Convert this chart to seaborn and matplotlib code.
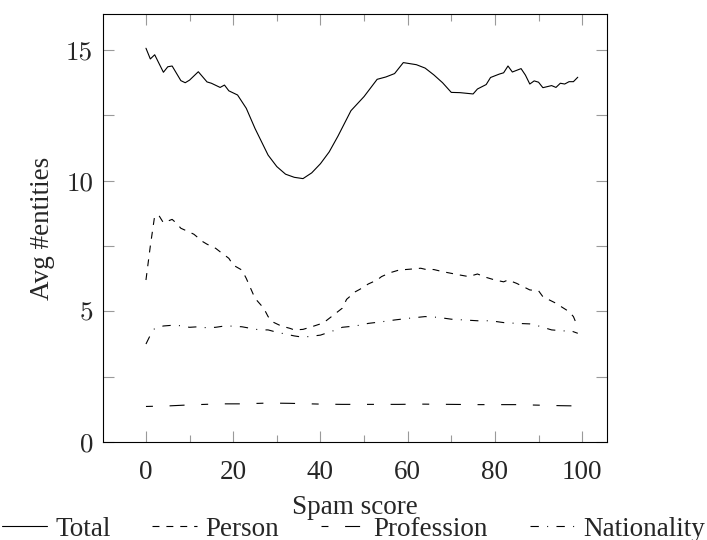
import matplotlib
matplotlib.use("Agg")
import matplotlib.pyplot as plt
import seaborn as sns
from matplotlib.ticker import MultipleLocator

# ---------------- data ----------------
total_x = [0, 1, 2, 4, 5, 6, 8, 9, 10, 12, 14, 15, 17, 18, 19, 21, 23, 25, 28, 30,
           32, 34, 36, 38, 40, 42, 44, 47, 50, 53, 55, 57, 59, 62, 64, 66, 68, 70, 72, 75,
           76, 78, 79, 81, 82, 83, 84, 86, 87, 88, 89, 90, 91, 93, 94, 95, 96, 97, 98, 99]
total_y = [15.07, 14.66, 14.82, 14.15, 14.36, 14.39, 13.83, 13.75, 13.85, 14.17,
           13.78, 13.73, 13.57, 13.66, 13.44, 13.28, 12.77, 12.0, 10.98, 10.54,
           10.25, 10.13, 10.08, 10.3, 10.65, 11.1, 11.7, 12.68, 13.22, 13.88,
           13.97, 14.1, 14.52, 14.44, 14.31, 14.05, 13.75, 13.38, 13.37, 13.32,
           13.51, 13.68, 13.95, 14.08, 14.13, 14.39, 14.16, 14.29, 14.04, 13.7,
           13.82, 13.77, 13.56, 13.64, 13.57, 13.73, 13.7, 13.79, 13.79, 13.96]

person_x = [0, 1, 2, 3, 4, 6, 7, 8, 10, 11, 13, 14, 16, 17, 19, 20, 22, 23, 24, 25,
            27, 28, 29, 31, 33, 34, 36, 38, 40, 41, 43, 45, 46, 48, 49, 51, 53, 54, 56, 58,
            61, 63, 64, 66, 68, 72, 74, 76, 78, 80, 82, 83, 85, 88, 90, 91, 94, 95, 97, 98, 99]
person_y = [6.2, 7.5, 8.66, 8.66, 8.39, 8.52, 8.37, 8.18, 8.03, 7.95,
            7.67, 7.57, 7.41, 7.28, 7.03, 6.77, 6.58, 6.26, 5.88, 5.5,
            5.12, 4.8, 4.6, 4.44, 4.35, 4.29, 4.31, 4.41, 4.52, 4.6,
            4.86, 5.12, 5.46, 5.75, 5.84, 6.05, 6.2, 6.33, 6.48, 6.58,
            6.62, 6.65, 6.61, 6.6, 6.52, 6.39, 6.33, 6.43, 6.3, 6.2,
            6.13, 6.2, 6.07, 5.82, 5.79, 5.56, 5.31, 5.2, 4.99, 4.8, 4.4]

profession_x = [0, 5, 10, 17, 22, 28, 33, 40, 45, 52, 58, 63, 70, 76, 80, 85, 90, 95, 99]
profession_y = [1.36, 1.38, 1.42, 1.46, 1.46, 1.49, 1.48, 1.45, 1.44, 1.44,
                1.44, 1.45, 1.44, 1.43, 1.43, 1.43, 1.41, 1.39, 1.38]

nationality_x = [0, 1, 2, 4, 7, 8, 10, 12, 14, 16, 18, 19, 22, 24, 26, 28, 30, 32, 34, 36,
                 40, 43, 45, 48, 51, 54, 57, 60, 64, 67, 70, 73, 76, 79, 82, 85, 88, 90, 93, 96, 97, 99]
nationality_y = [3.75, 4.09, 4.35, 4.44, 4.48, 4.44, 4.39, 4.41, 4.37, 4.39,
                 4.44, 4.44, 4.41, 4.35, 4.29, 4.29, 4.2, 4.13, 4.06, 4.01,
                 4.09, 4.26, 4.39, 4.44, 4.54, 4.6, 4.67, 4.73, 4.8, 4.77,
                 4.7, 4.67, 4.64, 4.64, 4.57, 4.54, 4.52, 4.44, 4.29, 4.25, 4.28, 4.16]

series_names = ["Total", "Person", "Profession", "Nationality"]
xtick_labels = ["0", "20", "40", "60", "80", "100"]
ytick_labels = ["0", "5", "10", "15"]

# ---------------- style ----------------
sns.set_theme(style="white")
plt.rcParams["font.family"] = ["Liberation Serif", "DejaVu Serif"]
plt.rcParams["lines.scale_dashes"] = False
FS = 19.5

fig = plt.figure(figsize=(7.07, 5.4), dpi=100)
ax = fig.add_axes([103 / 707, 98 / 540, 504 / 707, 428 / 540])

styles = [
    "-",
    (0, (5, 5)),
    (0, (5, 12, 10.8, 12)),
    (0, (6, 6, 0.7, 6)),
]
data = [(total_x, total_y), (person_x, person_y),
        (profession_x, profession_y), (nationality_x, nationality_y)]

for (xs, ys), name, ls in zip(data, series_names, styles):
    sns.lineplot(x=xs, y=ys, ax=ax, color="black", linewidth=0.8,
                 linestyle=ls, label=name, estimator=None, sort=False)

ax.set_xlim(-9.85, 105.7)
ax.set_ylim(0, 16.38)

ax.set_xticks([0, 20, 40, 60, 80, 100])
ax.set_xticklabels(xtick_labels, fontsize=FS)
ax.xaxis.set_minor_locator(MultipleLocator(10))
ax.set_yticks([0, 5, 10, 15])
ax.set_yticklabels(ytick_labels, fontsize=FS, fontfamily="cmr10")
ax.yaxis.set_minor_locator(MultipleLocator(2.5))

ax.tick_params(which="both", direction="in", top=True, right=True,
               bottom=True, left=True, color="#9a9a9a", width=0.8)
ax.tick_params(which="major", length=7.7)
ax.yaxis.set_tick_params(which="major", pad=7)
ax.xaxis.set_tick_params(which="major", pad=13)
ax.xaxis.set_tick_params(which="minor", length=4.8)
ax.yaxis.set_tick_params(which="minor", length=7.7)

for sp in ax.spines.values():
    sp.set_color("black")
    sp.set_linewidth(0.8)

ax.set_xlabel("Spam score", fontsize=FS, labelpad=7)
ax.set_ylabel("Avg #entities", fontsize=FS, labelpad=8)

handles, labels = ax.get_legend_handles_labels()
ax.get_legend().remove()
fig.legend(handles, labels, loc="center", bbox_to_anchor=(0.5, 11 / 540), ncol=4,
           frameon=False, fontsize=FS, handlelength=1.65, handletextpad=0.3,
           columnspacing=1.55, borderaxespad=0, borderpad=0)

fig.savefig("out.png", dpi=100)
